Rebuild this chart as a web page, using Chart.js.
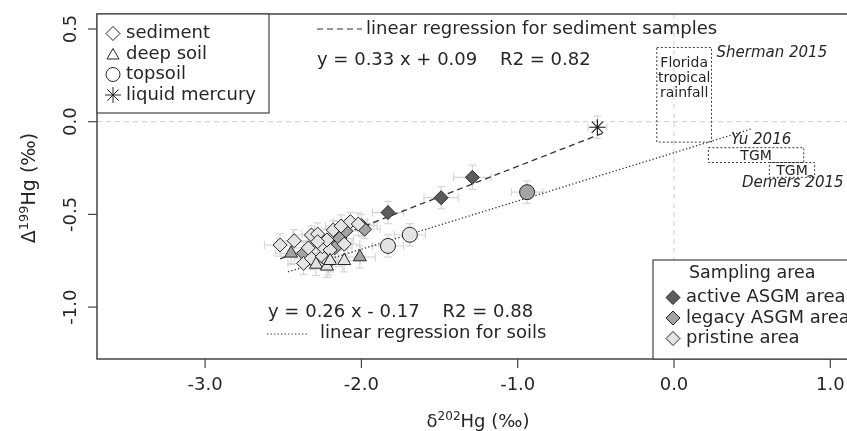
<!DOCTYPE html>
<html><head><meta charset="utf-8">
<script src="https://cdn.jsdelivr.net/npm/chart.js@4/dist/chart.umd.min.js"></script>
<style>html,body{margin:0;padding:0;overflow:hidden;background:#fff;width:847px;height:431px}canvas{display:block}</style>
</head><body><canvas id="c" width="847" height="431"></canvas>
<script>
// ---------- data ----------
const activeSedX = [-1.29, -1.49, -1.83];
const activeSedY = [-0.30, -0.41, -0.49];
const activeSedXErr = [0.12, 0.11, 0.10];
const activeSedYErr = [0.065, 0.06, 0.06];

const legacySedX = [-2.37, -2.10, -2.16, -2.14, -2.00, -1.98, -2.17];
const legacySedY = [-0.71, -0.59, -0.65, -0.63, -0.56, -0.58, -0.68];
const legacySedXErr = [0.10, 0.11, 0.10, 0.09, 0.10, 0.10, 0.11];
const legacySedYErr = [0.06, 0.06, 0.05, 0.06, 0.06, 0.05, 0.06];

const pristineSedX = [-2.52, -2.43, -2.37, -2.32, -2.28, -2.32, -2.25, -2.25, -2.20, -2.18, -2.13, -2.07, -2.02, -2.22, -2.28, -2.34, -2.21, -2.11];
const pristineSedY = [-0.665, -0.642, -0.764, -0.611, -0.606, -0.737, -0.728, -0.674, -0.692, -0.584, -0.563, -0.539, -0.552, -0.638, -0.647, -0.681, -0.757, -0.660];
const pristineSedXErr = [0.10, 0.11, 0.10, 0.12, 0.10, 0.11, 0.10, 0.09, 0.11, 0.12, 0.10, 0.11, 0.10, 0.10, 0.12, 0.10, 0.11, 0.10];
const pristineSedYErr = [0.06, 0.06, 0.06, 0.05, 0.06, 0.06, 0.07, 0.06, 0.06, 0.05, 0.06, 0.05, 0.06, 0.06, 0.06, 0.06, 0.07, 0.06];

const legacyDeepX = [-2.45, -2.01];
const legacyDeepY = [-0.71, -0.73];
const legacyDeepXErr = [0.10, 0.10];
const legacyDeepYErr = [0.06, 0.06];

const pristineDeepX = [-2.29, -2.22, -2.20, -2.11];
const pristineDeepY = [-0.77, -0.78, -0.75, -0.75];
const pristineDeepXErr = [0.10, 0.10, 0.10, 0.10];
const pristineDeepYErr = [0.06, 0.06, 0.06, 0.06];

const legacyTopX = [-0.94];
const legacyTopY = [-0.38];
const legacyTopXErr = [0.10];
const legacyTopYErr = [0.06];

const pristineTopX = [-1.69, -1.83];
const pristineTopY = [-0.61, -0.67];
const pristineTopXErr = [0.10, 0.10];
const pristineTopYErr = [0.06, 0.06];

const mercuryX = [-0.49];
const mercuryY = [-0.03];
const mercuryXErr = [0.06];
const mercuryYErr = [0.06];

// regression line end points
const sedLineX = [-2.52, -0.45];
const sedLineY = [-0.74, -0.06];
const soilLineX = [-2.47, 0.49];
const soilLineY = [-0.81, -0.04];

// literature reference boxes [xmin, xmax, ymin, ymax]
const floridaBox = [-0.11, 0.24, -0.11, 0.40];
const tgmYuBox = [0.22, 0.83, -0.22, -0.14];
const tgmDemersBox = [0.61, 0.90, -0.30, -0.22];

const xTicks = [-3, -2, -1, 0, 1];
const xTickLabels = ['-3.0', '-2.0', '-1.0', '0.0', '1.0'];
const yTicks = [0.5, 0, -0.5, -1];
const yTickLabels = ['0.5', '0.0', '-0.5', '-1.0'];

const typeLegend = ['sediment', 'deep soil', 'topsoil', 'liquid mercury'];
const areaLegend = ['active ASGM area', 'legacy ASGM area', 'pristine area'];

// ---------- styles ----------
const FONT = '"DejaVu Sans", sans-serif';
const C_ACTIVE = '#5c5c5c', C_LEGACY = '#a4a4a4', C_PRISTINE = '#e4e4e4';
const C_EDGE = '#262626', C_TEXT = '#262626';

const pts = (xs, ys) => xs.map((v, i) => ({ x: v, y: ys[i] }));
function pointSet(label, xs, ys, xe, ye, style, fill, r) {
  return { label, type: 'scatter', data: pts(xs, ys), errX: xe, errY: ye,
    pointStyle: style, pointRadius: r, pointBackgroundColor: fill,
    pointBorderColor: C_EDGE, pointBorderWidth: 1, order: 1 };
}

const datasets = [
  { label: 'sed line', type: 'line', data: pts(sedLineX, sedLineY), borderColor: '#333', borderWidth: 1.3,
    borderDash: [6, 4], pointRadius: 0, fill: false, order: 10 },
  { label: 'soil line', type: 'line', data: pts(soilLineX, soilLineY), borderColor: '#333', borderWidth: 1.3,
    borderDash: [1.3, 2.2], pointRadius: 0, fill: false, order: 10 },
  pointSet('pristine deep', pristineDeepX, pristineDeepY, pristineDeepXErr, pristineDeepYErr, 'triangle', C_PRISTINE, 7.5),
  pointSet('legacy deep', legacyDeepX, legacyDeepY, legacyDeepXErr, legacyDeepYErr, 'triangle', C_LEGACY, 7.5),
  pointSet('pristine sed', pristineSedX, pristineSedY, pristineSedXErr, pristineSedYErr, 'rectRot', C_PRISTINE, 7),
  pointSet('legacy sed', legacySedX, legacySedY, legacySedXErr, legacySedYErr, 'rectRot', C_LEGACY, 7),
  pointSet('active sed', activeSedX, activeSedY, activeSedXErr, activeSedYErr, 'rectRot', C_ACTIVE, 7),
  pointSet('pristine top', pristineTopX, pristineTopY, pristineTopXErr, pristineTopYErr, 'circle', C_PRISTINE, 7.5),
  pointSet('legacy top', legacyTopX, legacyTopY, legacyTopXErr, legacyTopYErr, 'circle', C_LEGACY, 7.5),
  pointSet('liquid mercury', mercuryX, mercuryY, mercuryXErr, mercuryYErr, 'star', C_EDGE, 8)
];
datasets[datasets.length - 1].pointBorderWidth = 1.2;

// ---------- drawing helpers ----------
function seg(ctx, x1, y1, x2, y2) { ctx.beginPath(); ctx.moveTo(x1, y1); ctx.lineTo(x2, y2); ctx.stroke(); }
function shape(ctx, kind, cx, cy, r, fill) {
  ctx.save();
  ctx.strokeStyle = C_EDGE; ctx.lineWidth = 1; ctx.setLineDash([]);
  ctx.beginPath();
  if (kind === 'diamond') {
    ctx.moveTo(cx, cy - r); ctx.lineTo(cx + r, cy); ctx.lineTo(cx, cy + r); ctx.lineTo(cx - r, cy); ctx.closePath();
  } else if (kind === 'triangle') {
    const w = r * 0.866;
    ctx.moveTo(cx, cy - r); ctx.lineTo(cx + w, cy + r / 2); ctx.lineTo(cx - w, cy + r / 2); ctx.closePath();
  } else if (kind === 'circle') {
    ctx.arc(cx, cy, r, 0, Math.PI * 2);
  } else if (kind === 'star') {
    for (let k = 0; k < 4; k++) {
      const a = k * Math.PI / 4;
      ctx.moveTo(cx - Math.cos(a) * r, cy - Math.sin(a) * r); ctx.lineTo(cx + Math.cos(a) * r, cy + Math.sin(a) * r);
    }
    ctx.stroke(); ctx.restore(); return;
  }
  if (fill) { ctx.fillStyle = fill; ctx.fill(); }
  ctx.stroke(); ctx.restore();
}
function supText(ctx, parts, cx, cy) {
  let w = 0;
  parts.forEach(p => { ctx.font = p[1] + 'px ' + FONT; w += ctx.measureText(p[0]).width; });
  let x = cx - w / 2;
  ctx.textAlign = 'left'; ctx.textBaseline = 'alphabetic';
  parts.forEach(p => { ctx.font = p[1] + 'px ' + FONT; ctx.fillText(p[0], x, cy - p[2]); x += ctx.measureText(p[0]).width; });
}
function dottedRect(ctx, xs, ys, b) {
  const x1 = xs.getPixelForValue(b[0]), x2 = xs.getPixelForValue(b[1]);
  const y1 = ys.getPixelForValue(b[3]), y2 = ys.getPixelForValue(b[2]);
  ctx.strokeRect(x1, y1, x2 - x1, y2 - y1);
  return { x1, x2, y1, y2 };
}

const deco = {
  id: 'deco',
  beforeDatasetsDraw(chart) {
    const { ctx, chartArea: a, scales: { x, y } } = chart;
    ctx.save();
    ctx.beginPath(); ctx.rect(a.left, a.top, a.right - a.left, a.bottom - a.top); ctx.clip();
    ctx.strokeStyle = '#cccccc'; ctx.lineWidth = 1; ctx.setLineDash([5, 4]);
    const y0 = y.getPixelForValue(0), x0 = x.getPixelForValue(0);
    seg(ctx, a.left, y0, a.right, y0);
    seg(ctx, x0, a.top, x0, a.bottom);
    ctx.setLineDash([]); ctx.strokeStyle = '#d6d6d6'; ctx.lineWidth = 1.2;
    chart.data.datasets.forEach(ds => {
      if (!ds.errX) return;
      ds.data.forEach((p, i) => {
        const px = x.getPixelForValue(p.x), py = y.getPixelForValue(p.y);
        const xl = x.getPixelForValue(p.x - ds.errX[i]), xr = x.getPixelForValue(p.x + ds.errX[i]);
        const yt = y.getPixelForValue(p.y + ds.errY[i]), yb = y.getPixelForValue(p.y - ds.errY[i]);
        seg(ctx, xl, py, xr, py); seg(ctx, xl, py - 4, xl, py + 4); seg(ctx, xr, py - 4, xr, py + 4);
        seg(ctx, px, yt, px, yb); seg(ctx, px - 4, yt, px + 4, yt); seg(ctx, px - 4, yb, px + 4, yb);
      });
    });
    ctx.strokeStyle = '#3a3a3a'; ctx.lineWidth = 1; ctx.setLineDash([2, 2]);
    const fb = dottedRect(ctx, x, y, floridaBox);
    const t1 = dottedRect(ctx, x, y, tgmYuBox);
    const t2 = dottedRect(ctx, x, y, tgmDemersBox);
    ctx.setLineDash([]);
    ctx.fillStyle = C_TEXT; ctx.textBaseline = 'middle'; ctx.textAlign = 'center';
    ctx.font = '14px ' + FONT;
    const fcx = (fb.x1 + fb.x2) / 2;
    ctx.fillText('Florida', fcx, fb.y1 + 16);
    ctx.fillText('tropical', fcx, fb.y1 + 31);
    ctx.fillText('rainfall', fcx, fb.y1 + 46);
    ctx.fillText('TGM', (t1.x1 + t1.x2) / 2, (t1.y1 + t1.y2) / 2 + 1);
    ctx.fillText('TGM', (t2.x1 + t2.x2) / 2, (t2.y1 + t2.y2) / 2 + 1);
    ctx.textAlign = 'left'; ctx.font = 'italic 15px ' + FONT;
    ctx.fillText('Sherman 2015', fb.x2 + 5, fb.y1 + 6);
    ctx.fillText('Yu 2016', 731, t1.y1 - 8);
    ctx.fillText('Demers 2015', 742, t2.y2 + 6);
    ctx.restore();
  },
  afterDraw(chart) {
    const { ctx, chartArea: a, scales: { x, y } } = chart;
    ctx.save();
    ctx.strokeStyle = '#444'; ctx.lineWidth = 1.5; ctx.setLineDash([]);
    ctx.beginPath();
    ctx.moveTo(a.right + 20, a.top); ctx.lineTo(a.left, a.top); ctx.lineTo(a.left, a.bottom); ctx.lineTo(a.right + 20, a.bottom);
    ctx.stroke();
    ctx.lineWidth = 1.2;
    ctx.fillStyle = C_TEXT; ctx.font = '18px ' + FONT;
    ctx.textAlign = 'center'; ctx.textBaseline = 'middle';
    xTicks.forEach((t, i) => {
      const px = x.getPixelForValue(t);
      seg(ctx, px, a.bottom, px, a.bottom + 9);
      ctx.fillText(xTickLabels[i], px, 385);
    });
    yTicks.forEach((t, i) => {
      const py = y.getPixelForValue(t);
      seg(ctx, a.left, py, a.left - 9, py);
      ctx.save(); ctx.translate(71, py); ctx.rotate(-Math.PI / 2);
      ctx.fillText(yTickLabels[i], 0, 0); ctx.restore();
    });
    supText(ctx, [['δ', 18, 0], ['202', 12, 7], ['Hg (‰)', 18, 0]], 478, 427);
    ctx.save(); ctx.translate(35, 188); ctx.rotate(-Math.PI / 2);
    supText(ctx, [['Δ', 19, 0], ['199', 13, 7.5], ['Hg (‰)', 19, 0]], 0, 0);
    ctx.restore();

    ctx.fillStyle = '#fff'; ctx.fillRect(97, 14, 172, 99);
    ctx.strokeStyle = '#444'; ctx.lineWidth = 1.2; ctx.strokeRect(97, 14, 172, 99);
    const ly1 = [33.5, 54, 74.5, 95];
    const kinds = ['diamond', 'triangle', 'circle', 'star'];
    kinds.forEach((k, i) => shape(ctx, k, 113, ly1[i] + (k === 'triangle' ? 1.5 : 0), k === 'star' ? 8 : 7, null));
    ctx.fillStyle = C_TEXT; ctx.font = '18px ' + FONT; ctx.textAlign = 'left'; ctx.textBaseline = 'middle';
    typeLegend.forEach((t, i) => ctx.fillText(t, 126, ly1[i]));

    ctx.fillStyle = '#fff'; ctx.fillRect(653, 260, 260, a.bottom - 260);
    ctx.strokeStyle = '#444'; ctx.lineWidth = 1.2; ctx.strokeRect(653, 260, 260, a.bottom - 260);
    ctx.fillStyle = C_TEXT; ctx.font = '17.5px ' + FONT; ctx.textAlign = 'left';
    ctx.fillText('Sampling area', 689, 273);
    const ly2 = [297.5, 318, 338.5];
    const fills = [C_ACTIVE, C_LEGACY, C_PRISTINE];
    fills.forEach((f, i) => shape(ctx, 'diamond', 673, ly2[i], 7, f));
    ctx.fillStyle = C_TEXT; ctx.font = '18px ' + FONT;
    areaLegend.forEach((t, i) => ctx.fillText(t, 686, ly2[i]));

    ctx.font = '18px ' + FONT;
    ctx.strokeStyle = '#333'; ctx.lineWidth = 1.2;
    ctx.setLineDash([6, 4]); seg(ctx, 317, 29, 362, 29);
    ctx.setLineDash([1.3, 2.2]); seg(ctx, 267, 334, 309, 334);
    ctx.setLineDash([]);
    ctx.fillText('linear regression for sediment samples', 366, 29);
    ctx.fillText('y = 0.33 x + 0.09    R2 = 0.82', 317, 60);
    ctx.fillText('y = 0.26 x - 0.17    R2 = 0.88', 268, 312);
    ctx.fillText('linear regression for soils', 320, 333);
    ctx.restore();
  }
};

new Chart(document.getElementById('c'), {
  type: 'scatter',
  data: { datasets },
  options: {
    responsive: false, animation: false,
    layout: { autoPadding: false, padding: { top: 14, right: 0, left: 0, bottom: 0 } },
    plugins: { legend: { display: false }, tooltip: { enabled: false } },
    scales: {
      x: { type: 'linear', min: -3.6916, max: 1.1068,
        ticks: { display: false }, grid: { display: false }, border: { display: false },
        afterFit: s => { s.height = 72; } },
      y: { type: 'linear', min: -1.2799, max: 0.5809,
        ticks: { display: false }, grid: { display: false }, border: { display: false },
        afterFit: s => { s.width = 97; } }
    }
  },
  plugins: [deco]
});
</script></body></html>
